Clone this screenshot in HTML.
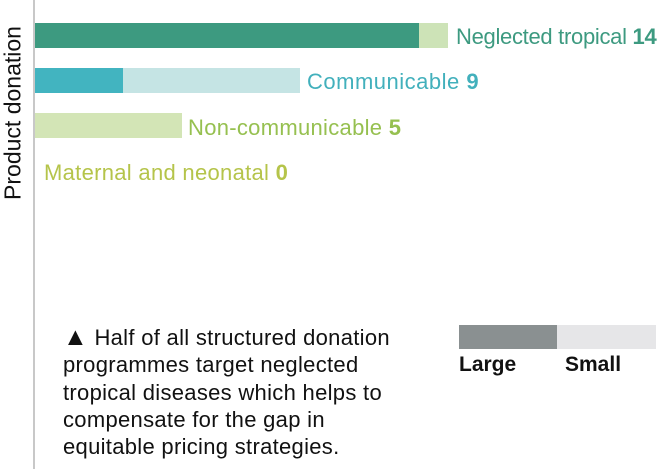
<!DOCTYPE html>
<html><head><meta charset="utf-8"><style>
body{margin:0;width:660px;height:469px;background:#fff;position:relative;overflow:hidden;font-family:"Liberation Sans",sans-serif}
div{position:absolute}
.b{height:25px}
.l{font-size:22px;letter-spacing:0px;white-space:nowrap;line-height:25px}
.l b{font-weight:bold}
</style></head><body>
<div style="left:33px;top:0;width:2px;height:469px;background:#c8c8c8"></div>
<div style="left:13px;top:113px;transform:translate(-50%,-50%) rotate(-90deg);font-size:23px;white-space:nowrap;color:#111">Product donation</div>

<div class="b" style="left:35px;top:23px;width:384px;background:#3d9a80"></div>
<div class="b" style="left:419px;top:23px;width:29px;background:#cde3b7"></div>
<div class="l" style="left:456px;top:24px;color:#3d9a80;letter-spacing:-0.3px">Neglected tropical <b>14</b></div>

<div class="b" style="left:35px;top:68px;width:88px;background:#42b4c0"></div>
<div class="b" style="left:123px;top:68px;width:177px;background:#c5e4e4"></div>
<div class="l" style="left:307px;top:69px;color:#42b0bc;letter-spacing:0.5px">Communicable <b>9</b></div>

<div class="b" style="left:35px;top:113px;width:147px;background:#d3e5b6"></div>
<div class="l" style="left:188px;top:115px;color:#96c050;letter-spacing:0.3px">Non-communicable <b>5</b></div>

<div class="l" style="left:44px;top:160px;color:#b5c44a;letter-spacing:0.3px">Maternal and neonatal <b>0</b></div>

<div style="left:63px;top:324px;font-size:22px;letter-spacing:0.3px;line-height:27.3px;color:#111;white-space:nowrap"><span style="font-size:25px;line-height:20px">▲</span> Half of all structured donation<br>programmes target neglected<br>tropical diseases which helps to<br>compensate for the gap in<br>equitable pricing strategies.</div>

<div style="left:459px;top:325px;width:98px;height:24px;background:#8a9091"></div>
<div style="left:557px;top:325px;width:99px;height:24px;background:#e6e6e8"></div>
<div style="left:459px;top:353px;font-size:21px;font-weight:bold;color:#111">Large</div>
<div style="left:565px;top:353px;font-size:21px;font-weight:bold;color:#111">Small</div>
</body></html>
